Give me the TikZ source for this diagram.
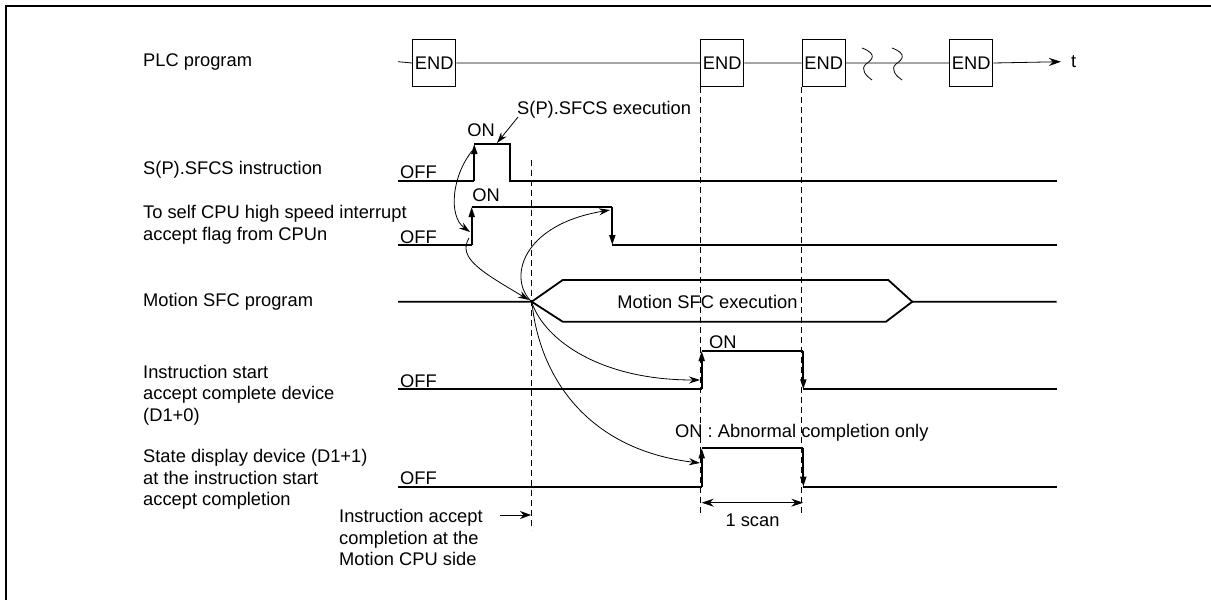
\documentclass[tikz,border=0pt]{standalone}
\usepackage{fontspec}
\setmainfont{Liberation Sans}
\usetikzlibrary{arrows.meta,positioning}
\tikzset{
	lbl/.style={anchor=west,inner sep=0pt,align=left,font=\fontsize{18.3}{21.5}\selectfont},
	txt/.style={inner sep=0pt,font=\fontsize{18.3}{21.5}\selectfont},
	endbox/.style={draw,line width=1.2pt,minimum width=43pt,minimum height=47pt,inner sep=0pt,font=\fontsize{18.3}{21.5}\selectfont},
	sig/.style={line width=1.8pt},
	thinline/.style={line width=0.8pt},
	guide/.style={line width=0.9pt,dash pattern=on 6pt off 4pt},
	upedge/.style={sig,-{Triangle[length=10pt,width=6pt]}},
	cause/.style={thinline,-{Stealth[length=11pt,width=7pt]}}
}
\begin{document}
\begin{tikzpicture}[x=1pt,y=-1pt]
		\useasboundingbox (0,0) rectangle (1211,600);
		% frame
		\draw[line width=2pt] (6,600) -- (6,6) -- (1211,6);
		% signal names
		\node[lbl] (n1) at (143,62) {PLC program};
		\node[lbl] (n2) at (143,170) {S(P).SFCS instruction};
		\node[lbl] (n3) at (143,225) {To self CPU high speed interrupt\\accept flag from CPUn};
		\node[lbl] (n4) at (143,301.7) {Motion SFC program};
		\node[lbl] (n5) at (143,395) {Instruction start\\accept complete device\\(D1+0)};
		\node[lbl] (n6) at (143,479.5) {State display device (D1+1)\\at the instruction start\\accept completion};
		% PLC scan
		\node[endbox] (e1) at (434.2,63) {END};
		\node[endbox] (e2) at (722.2,63) {END};
		\node[endbox] (e3) at (823.8,63) {END};
		\node[endbox] (e4) at (971.3,63) {END};
		\coordinate (t0) at (398,61.7);
		\coordinate (t1) at (1061,61.7);
		\node[txt,anchor=west] (tt) at (1071,62) {t};
		\draw[thinline] (t0) -- (e1.west) (e1.east) -- (e2.west) (e2.east) -- (e3.west) (e3.east) -- (e4.west);
		\draw[thinline,-{Stealth[length=12pt,width=8pt]}] (e4.east) -- (t1);
		\draw[thinline] (862,48) .. controls (878,54) and (872,60) .. (866,64) .. controls (860,69) and (866,76) .. (872,80);
		\draw[thinline] (892,48) .. controls (908,54) and (902,60) .. (896,64) .. controls (890,69) and (896,76) .. (902,80);
		% dashed guides
		\draw[guide] (531.7,160) -- (531.7,530);
		\draw[guide] (e2.south west) -- (e2.south west |- 0,513);
		\draw[guide] (e3.south west) -- (e3.south west |- 0,513);
		% S(P).SFCS instruction
		\node[txt,anchor=south west] (off1) at (400,179) {OFF};
		\node[txt] (on1) at (481,130) {ON};
		\draw[sig] (398,180.7) -- (474.3,180.7);
		\draw[upedge] (474.3,180.7) -- (474.3,144);
		\draw[sig] (474.3,144) -- (510,144) -- (510,180.7) -- (1056.7,180.7);
		\node[txt,anchor=west] (ex) at (517,110) {S(P).SFCS execution};
		\coordinate (spon) at (497,143);
		\draw[cause] (518,117) -- (spon);
		% interrupt flag
		\node[txt,anchor=south west] (off2) at (400,243.5) {OFF};
		\node[txt] (on2) at (486,195) {ON};
		\draw[sig] (398,245) -- (471.7,245);
		\draw[upedge] (471.7,245) -- (471.7,207);
		\draw[sig] (471.7,207) -- (612.3,207);
		\draw[upedge] (612.3,207) -- (612.3,245);
		\draw[sig] (612.3,245) -- (1056.7,245);
		% Motion SFC program
		\coordinate (ms) at (531.7,301.7);
		\draw[sig] (398,301.7) -- (ms) -- (562.7,280) -- (888.3,280) -- (912.3,301.7) -- (1056.7,301.7);
		\draw[sig] (ms) -- (562.7,321.7) -- (886,321.7) -- (912.3,301.7);
		\node[txt] (mx) at (707.5,301.7) {Motion SFC execution};
		% D1+0
		\node[txt,anchor=south west] (off3) at (400,388) {OFF};
		\node[txt,anchor=west] (on3) at (709,342) {ON};
		\draw[sig] (398,389.3) -- (701.7,389.3);
		\draw[upedge] (701.7,389.3) -- (701.7,351);
		\draw[sig] (701.7,351) -- (803.3,351);
		\draw[upedge] (803.3,351) -- (803.3,389.3);
		\draw[sig] (803.3,389.3) -- (1056.7,389.3);
		% D1+1
		\node[txt,anchor=south west] (off4) at (400,485) {OFF};
		\node[txt,anchor=west] (on4) at (675,433) {ON : Abnormal completion only};
		\draw[sig] (398,486.7) -- (701.7,486.7);
		\draw[upedge] (701.7,486.7) -- (701.7,448.3);
		\draw[sig] (701.7,448.3) -- (803.3,448.3);
		\draw[upedge] (803.3,448.3) -- (803.3,486.7);
		\draw[sig] (803.3,486.7) -- (1056.7,486.7);
		% cause and effect
		\draw[cause] (472,151) .. controls (452,176) and (448,216) .. (470,232);
		\draw[cause] (469,238) .. controls (457,258) and (482,272) .. (529,300);
		\draw[cause] (ms) .. controls (508,280) and (520,225) .. (610,210);
		\draw[cause] (532,303) .. controls (545,340) and (600,380) .. (700,380);
		\draw[cause] (532,303) .. controls (540,380) and (590,450) .. (700,463);
		% 1 scan
		\draw[thinline,{Stealth[length=12pt,width=8pt]}-{Stealth[length=12pt,width=8pt]}] (701.7,502.7) -- (803.3,502.7);
		\node[txt] (sc) at (752.5,520) {1 scan};
		% accept completion
		\node[lbl] (ac) at (339,537.5) {Instruction accept\\completion at the\\Motion CPU side};
		\coordinate (acp) at (531,515);
		\draw[thinline,-{Stealth[length=11pt,width=8pt]}] (500,515) -- (acp);
	\end{tikzpicture}
\end{document}
